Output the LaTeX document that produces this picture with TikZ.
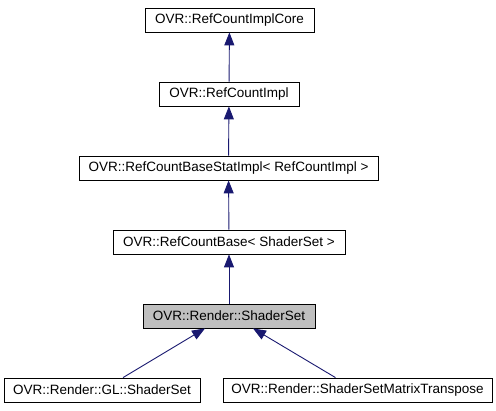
\documentclass[tikz,border=0pt]{standalone}
\usepackage{fontspec}
\setmainfont{Liberation Sans}
\usepackage{tikz}
\usetikzlibrary{shapes,arrows,arrows.meta}
\usetikzlibrary{calc}
\definecolor{edgeblue}{HTML}{191970}
\tikzset{
  classbox/.style={draw=black,line width=0.8pt,minimum height=24pt,inner sep=0pt,
    font=\fontsize{13.5}{15}\selectfont},
  curbox/.style={classbox,fill=gray!50},
  inherit/.style={->,>={Triangle[length=13pt,width=10pt]},color=edgeblue,line width=0.9pt}
}
\begin{document}
\begin{tikzpicture}[x=1pt,y=-1pt]
		\useasboundingbox (0,0) rectangle (496,411);
		% class chain
		\node[classbox,minimum width=169pt] (core) at (229.5,20) {OVR::RefCountImplCore};
		\node[classbox,minimum width=140pt] (impl) at (229,94) {OVR::RefCountImpl};
		\node[classbox,minimum width=299pt] (stat) at (228.5,168) {OVR::RefCountBaseStatImpl< RefCountImpl >};
		\node[classbox,minimum width=232pt] (base) at (229,242) {OVR::RefCountBase< ShaderSet >};
		\node[curbox,minimum width=172pt] (shset) at (229,316) {OVR::Render::ShaderSet};
		\node[classbox,minimum width=196pt] (glset) at (102,390) {OVR::Render::GL::ShaderSet};
		\node[classbox,minimum width=269pt] (trset) at (357.5,390) {OVR::Render::ShaderSetMatrixTranspose};
		% inheritance
		\draw[inherit] (impl) -- (core);
		\draw[inherit] (stat) -- (impl);
		\draw[inherit] (base) -- (stat);
		\draw[inherit] (shset) -- (base);
		\draw[inherit] ($(glset.north)+(21,0)$) -- ($(shset.south)+(-24,0)$);
		\draw[inherit] ($(trset.north)+(-22,0)$) -- ($(shset.south)+(24,0)$);
		\end{tikzpicture}
\end{document}
